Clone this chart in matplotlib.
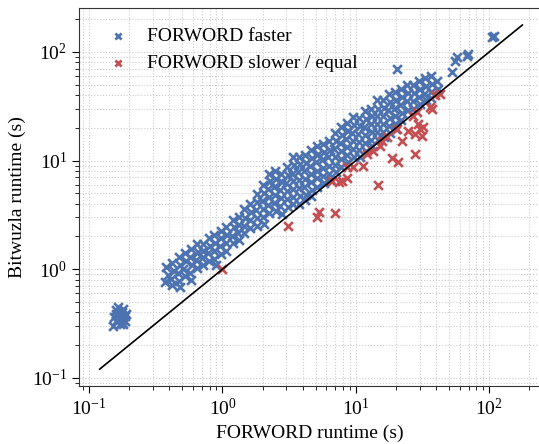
import matplotlib
matplotlib.use("Agg")
import matplotlib.pyplot as plt

# runtimes (s): FORWORD on x, Bitwuzla on y, one row per slice of the cloud
fast_x = [
    0.16, 0.17, 0.18, 0.165, 0.175, 0.155, 0.185, 0.17, 0.16, 0.18, 0.15, 0.19, 0.175, 0.165, 0.185, 0.158, 0.172, 0.18,
    0.38, 0.39, 0.37,
    0.42, 0.43, 0.41, 0.42,
    0.47, 0.48, 0.46, 0.47, 0.48,
    0.52, 0.53, 0.51, 0.52,
    0.58, 0.57, 0.59, 0.57, 0.58,
    0.64, 0.65, 0.63, 0.64,
    0.71, 0.72, 0.70, 0.71,
    0.79, 0.80, 0.78, 0.79,
    0.87, 0.88, 0.86, 0.87, 0.89,
    0.97, 0.98, 0.96, 0.97,
    1.07, 1.09, 1.06, 1.07,
    1.19, 1.21, 1.18, 1.19,
    1.32, 1.34, 1.31, 1.32,
    1.46, 1.48, 1.45, 1.46,
    1.62, 1.65, 1.61, 1.62,
    1.80, 1.83, 1.78, 1.80, 1.82,
    2.00, 2.04, 1.98, 2.02, 2.00, 2.05,
    2.22, 2.26, 2.20, 2.24, 2.21, 2.25,
    2.46, 2.50, 2.44, 2.48, 2.45, 2.50,
    2.73, 2.77, 2.70, 2.75, 2.72, 2.78,
    3.03, 3.08, 3.00, 3.05, 3.02, 3.08,
    3.36, 3.42, 3.33, 3.38, 3.35, 3.40, 3.36,
    3.73, 3.79, 3.70, 3.76, 3.72, 3.78, 3.73,
    4.14, 4.21, 4.10, 4.18, 4.12, 4.20, 4.14,
    4.59, 4.66, 4.55, 4.62, 4.58, 4.65, 4.59,
    5.09, 5.17, 5.05, 5.13, 5.07, 5.15,
    5.65, 5.74, 5.60, 5.70, 5.63, 5.72,
    6.27, 6.37, 6.21, 6.32, 6.25, 6.35,
    6.95, 7.06, 6.89, 7.01, 6.93, 7.04,
    7.71, 7.83, 7.64, 7.77, 7.69, 7.80,
    8.56, 8.70, 8.48, 8.63, 8.53, 8.66,
    9.49, 9.64, 9.40, 9.57, 9.46, 9.60,
    10.5, 10.7, 10.4, 10.6, 10.5, 10.7,
    11.7, 11.9, 11.6, 11.8, 11.7, 11.9,
    13.0, 13.2, 12.9, 13.1, 13.0, 13.2,
    14.4, 14.6, 14.3, 14.5, 14.4, 14.6,
    16.0, 16.3, 15.9, 16.1, 16.0, 16.3,
    17.7, 18.0, 17.5, 17.9, 17.7, 18.0,
    19.6, 19.9, 19.4, 19.8, 19.6, 19.9,
    21.8, 22.1, 21.6, 22.0, 21.8,
    24.2, 24.6, 24.0, 24.4,
    26.8, 27.2, 26.6, 27.0,
    29.8, 30.3, 29.5, 30.1,
    33.0, 33.5, 32.7, 33.3,
    36.6, 37.2, 36.3, 36.9,
    40.6, 41.2,
    20.3, 52.7, 55.5, 57.5, 68.0, 69.5, 105.5, 109.0,
]
fast_y = [
    0.33, 0.35, 0.34, 0.38, 0.40, 0.36, 0.37, 0.31, 0.42, 0.43, 0.30, 0.39, 0.32, 0.45, 0.33, 0.39, 0.37, 0.31,
    1.04, 0.88, 0.76,
    1.15, 0.97, 0.82, 0.71,
    1.29, 1.09, 0.92, 0.78, 0.68,
    1.42, 1.20, 1.01, 0.86,
    1.53, 1.29, 1.09, 0.92, 0.79,
    1.70, 1.44, 1.21, 1.02,
    1.70, 1.47, 1.27, 1.09,
    1.95, 1.65, 1.40, 1.20,
    2.06, 1.73, 1.47, 1.24, 1.09,
    2.25, 1.92, 1.62, 1.37,
    2.44, 2.06, 1.73, 1.47,
    2.85, 2.42, 2.04, 1.73,
    3.00, 2.54, 2.14, 1.86,
    3.55, 2.98, 2.52, 2.14,
    3.96, 3.35, 2.83, 2.38,
    4.95, 4.18, 3.54, 2.98, 2.52,
    5.93, 5.00, 4.22, 3.56, 3.00, 2.59,
    7.60, 6.45, 5.45, 4.60, 3.87, 3.27,
    7.97, 6.73, 5.67, 4.80, 4.04, 3.42,
    7.50, 6.30, 5.35, 4.50, 3.80, 3.20,
    8.68, 7.33, 6.18, 5.22, 4.40, 3.72,
    10.7, 9.05, 7.60, 6.45, 5.45, 4.60, 3.96,
    10.9, 9.25, 7.80, 6.60, 5.56, 4.70, 3.96,
    11.2, 9.50, 8.00, 6.75, 5.70, 4.85, 4.30,
    12.4, 10.5, 8.87, 7.48, 6.31, 5.33, 4.70,
    13.5, 11.4, 9.60, 8.10, 6.85, 5.70,
    14.1, 11.9, 10.1, 8.49, 7.17, 6.18,
    15.0, 12.6, 10.7, 9.00, 7.60, 6.60,
    17.8, 15.1, 12.7, 10.7, 9.06, 7.80,
    20.2, 17.1, 14.4, 12.2, 10.3, 8.68,
    22.0, 18.6, 15.8, 13.3, 11.2, 9.60,
    25.0, 21.2, 17.8, 15.1, 12.7, 10.9,
    24.5, 20.7, 17.5, 14.9, 12.4, 10.7,
    28.5, 24.0, 20.3, 17.2, 14.5, 12.3,
    30.1, 25.6, 21.6, 18.3, 15.4, 13.5,
    35.9, 30.1, 25.6, 21.6, 18.3, 15.4,
    36.0, 30.5, 25.8, 21.8, 18.4, 16.5,
    40.7, 34.4, 29.0, 24.5, 20.7, 17.8,
    42.5, 35.9, 30.1, 25.6, 21.6, 19.4,
    45.3, 38.2, 32.3, 27.3, 23.5,
    50.0, 42.2, 35.6, 29.5,
    49.4, 41.7, 35.1, 29.6,
    53.9, 45.3, 38.2, 33.0,
    57.1, 48.3, 40.7, 35.9,
    59.6, 50.4, 42.5, 37.3,
    53.9, 45.3,
    69.6, 64.9, 82.0, 89.0, 91.0, 95.0, 137.0, 140.0,
]
slow_x = [1.0, 3.08, 5.09, 5.27, 6.95, 6.6, 7.45, 8.55, 7.85, 8.55, 9.5, 11.3, 12.1, 13.4, 15.1, 14.6, 17.1,
          15.7, 18.7, 20.7, 20.3, 22.2, 24.6, 26.8, 29.2, 30.3, 27.8, 31.4, 27.8, 37.3, 39.3, 42.8, 36.0,
          28.8, 31.9]
slow_y = [1.0, 2.49, 3.01, 3.35, 3.27, 6.45, 6.32, 6.87, 6.45, 8.68, 8.68, 8.87, 11.4, 12.2, 13.5, 5.93, 16.4,
          15.1, 10.5, 9.65, 19.4, 15.1, 18.6, 25.6, 21.6, 19.4, 17.5, 16.7, 11.4, 29.6, 39.9, 40.7, 30.9,
          27.8, 20.3]
diag = [0.12, 177]
xlims = [0.084, 245]
ylims = [0.084, 254]

plt.rcParams['font.family'] = ['Liberation Serif', 'DejaVu Serif']
plt.rcParams['mathtext.fontset'] = 'stix'

fig = plt.figure(figsize=(5.39, 4.44), dpi=100)
ax = fig.add_axes([79 / 539, 58 / 444, 1.004 - 79 / 539, 378 / 444])

ax.scatter(fast_x, fast_y, marker='x', s=40, linewidths=1.9, color='#4C72B0',
           label='FORWORD faster', zorder=3)
ax.scatter(slow_x, slow_y, marker='x', s=40, linewidths=1.9, color='#C44E52',
           label='FORWORD slower / equal', zorder=3)
ax.plot(diag, diag, color='black', linewidth=1.2, zorder=4)

ax.set_xscale('log')
ax.set_yscale('log')
ax.set_xlim(xlims)
ax.set_ylim(ylims)
ax.grid(True, which='both', linestyle=':', color='#cccccc', linewidth=0.8)
ax.set_axisbelow(True)
ax.tick_params(which='major', length=5, labelsize=14)
ax.tick_params(which='minor', length=3)
for s in ax.spines.values():
    s.set_color('#333333')

ax.set_xlabel('FORWORD runtime (s)', fontsize=14)
ax.set_ylabel('Bitwuzla runtime (s)', fontsize=14)
ax.legend(loc='upper left', frameon=False, fontsize=14, markerscale=0.7,
          handletextpad=0.5, borderaxespad=0.6)

fig.savefig('out.png', dpi=100)
